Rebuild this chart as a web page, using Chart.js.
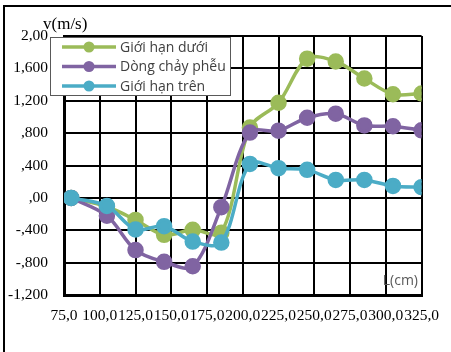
<!DOCTYPE html>
<html>
<head>
<meta charset="utf-8">
<script src="https://cdn.jsdelivr.net/npm/chart.js@4/dist/chart.umd.min.js"></script>
<style>
  body { margin: 0; background: #fff; }
  #wrap { width: 451px; height: 352px; }
</style>
</head>
<body>
<div id="wrap"><canvas id="myChart" width="451" height="352"></canvas></div>
<script>
// chart values
const seriesNames = ['Giới hạn dưới', 'Dòng chảy phễu', 'Giới hạn trên'];
const xValues = [80, 105, 125, 145, 165, 185, 205, 225, 245, 265, 285, 305, 325];
const lowerLimit = [0, -110, -272, -457, -395, -430, 870, 1175, 1720, 1685, 1475, 1280, 1290];
const funnelFlow = [0, -220, -645, -790, -845, -115, 807, 830, 990, 1040, 895, 885, 835];
const upperLimit = [0, -99, -390, -350, -540, -552, 420, 367, 346, 222, 222, 148, 132];

const xTickValues = [75, 100, 125, 150, 175, 200, 225, 250, 275, 300, 325];
const xTickLabels = ['75,0', '100,0', '125,0', '150,0', '175,0', '200,0', '225,0', '250,0', '275,0', '300,0', '325,0'];
const yTickValues = [-1200, -800, -400, 0, 400, 800, 1200, 1600, 2000];
const yTickLabels = ['-1,200', '-,800', '-,400', ',00', ',400', ',800', '1,200', '1,600', '2,00'];

const colors = ['#9BBB59', '#8064A2', '#4BACC6'];
const serif = '"Liberation Serif", "Times New Roman", serif';

function pts(ys) {
  return ys.map((y, i) => ({ x: xValues[i], y: y }));
}

function makeSet(i, ys, order) {
  return {
    label: seriesNames[i],
    data: pts(ys),
    borderColor: colors[i],
    backgroundColor: colors[i],
    pointBackgroundColor: colors[i],
    pointBorderColor: colors[i],
    borderWidth: 3.5,
    pointRadius: 6.5,
    tension: 0.33,
    order: order
  };
}

// frame, axis titles and the boxed legend over the plot
const extras = {
  id: 'extras',
  afterDraw(chart) {
    const c = chart.ctx;
    c.save();
    c.strokeStyle = '#000';
    c.lineWidth = 2;
    c.beginPath();
    c.moveTo(4, 352);
    c.lineTo(4, 6);
    c.lineTo(451, 6);
    c.stroke();

    c.fillStyle = '#000';
    c.font = '17px ' + serif;
    c.textAlign = 'left';
    c.textBaseline = 'middle';
    c.fillText('v(m/s)', 43, 25);

    c.fillStyle = '#595959';
    c.font = '14px "Open Sans", sans-serif';
    c.textAlign = 'right';
    c.fillText('L(cm)', 418, 281);

    // legend
    c.fillStyle = '#fff';
    c.fillRect(50, 37, 180, 58);
    c.strokeStyle = '#595959';
    c.lineWidth = 1;
    c.strokeRect(50.5, 37.5, 180, 58);
    const rows = [47, 66.5, 86];
    c.font = '14px "Open Sans", sans-serif';
    c.textAlign = 'left';
    seriesNames.forEach((name, i) => {
      const y = rows[i];
      c.strokeStyle = colors[i];
      c.lineWidth = 3.5;
      c.beginPath();
      c.moveTo(62, y);
      c.lineTo(116, y);
      c.stroke();
      c.fillStyle = colors[i];
      c.beginPath();
      c.arc(89, y, 5.5, 0, Math.PI * 2);
      c.fill();
      c.fillStyle = '#404040';
      c.fillText(name, 120, y + 1);
    });
    c.restore();
  }
};

const config = {
  type: 'line',
  data: {
    datasets: [
      makeSet(0, lowerLimit, 2),
      makeSet(1, funnelFlow, 1),
      makeSet(2, upperLimit, 0)
    ]
  },
  options: {
    responsive: false,
    animation: false,
    layout: { padding: { left: 0, top: 36, right: 29, bottom: 0 } },
    plugins: {
      legend: { display: false },
      tooltip: { enabled: false }
    },
    scales: {
      x: {
        type: 'linear',
        min: 75,
        max: 325,
        afterFit: (s) => { s.height = 57; },
        afterBuildTicks: (s) => { s.ticks = xTickValues.map(v => ({ value: v })); },
        grid: { color: '#000', lineWidth: 2, drawTicks: false },
        border: { color: '#000', width: 3 },
        ticks: {
          autoSkip: false,
          maxRotation: 0,
          padding: 12,
          color: '#000',
          font: { family: serif, size: 15.5 },
          callback: (v) => xTickLabels[xTickValues.indexOf(v)]
        }
      },
      y: {
        min: -1200,
        max: 2000,
        afterFit: (s) => { s.width = 64; },
        afterBuildTicks: (s) => { s.ticks = yTickValues.map(v => ({ value: v })); },
        grid: { color: '#000', lineWidth: 2, drawTicks: false },
        border: { color: '#000', width: 3 },
        ticks: {
          padding: 16,
          color: '#000',
          font: { family: serif, size: 15.5 },
          callback: (v) => yTickLabels[yTickValues.indexOf(v)]
        }
      }
    }
  },
  plugins: [extras]
};

const ctx = document.getElementById('myChart');
const myChart = new Chart(ctx, config);
</script>
</body>
</html>
